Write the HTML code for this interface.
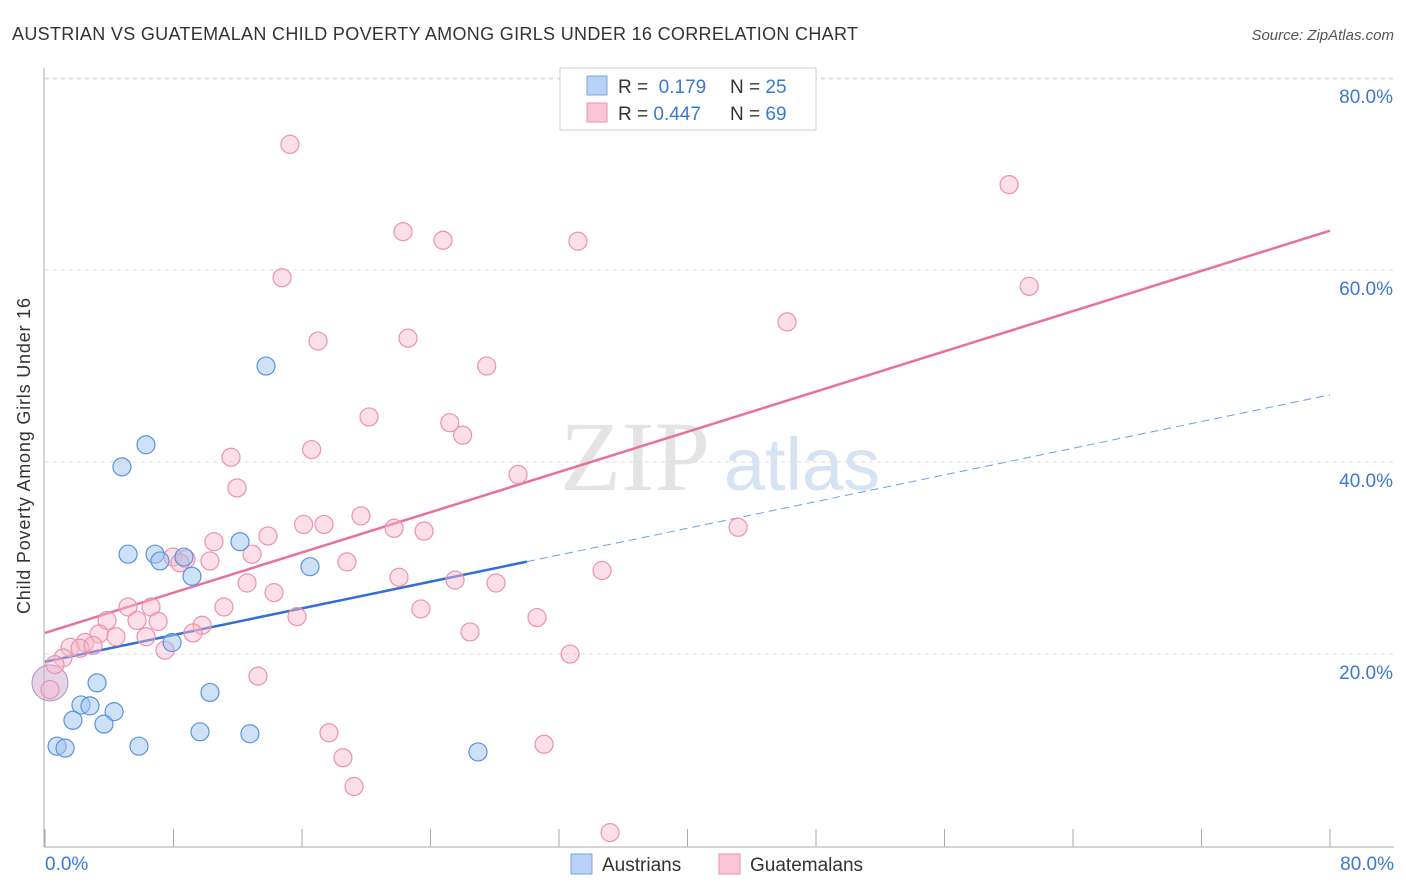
<!DOCTYPE html>
<html><head><meta charset="utf-8"><style>
body{margin:0;background:#fff;font-family:"Liberation Sans",sans-serif}
#wrap{position:relative;width:1406px;height:892px;overflow:hidden}
</style></head><body>
<div id="wrap">
<svg id="chart" width="1406" height="892">
<text x="12" y="40" font-size="18" fill="#333" textLength="846" lengthAdjust="spacing">AUSTRIAN VS GUATEMALAN CHILD POVERTY AMONG GIRLS UNDER 16 CORRELATION CHART</text>
<text x="1394" y="40" font-size="15" fill="#555" text-anchor="end" font-style="italic">Source: ZipAtlas.com</text>
<text x="30" y="456" font-size="18" fill="#333" text-anchor="middle" textLength="316" lengthAdjust="spacing" transform="rotate(-90 30 456)">Child Poverty Among Girls Under 16</text>
<g><text x="635" y="490" font-size="100" fill="#e4e4e4" text-anchor="middle" font-family="Liberation Serif,serif">ZIP</text><text x="802" y="490" font-size="74" fill="#d5e3f3" text-anchor="middle">atlas</text></g>
<g id="grid"></g><g id="axes"></g><g id="lines"></g><g id="pts"></g>
<g>
<rect x="560" y="68" width="256" height="62" fill="#fff" stroke="#ccc"/>
<rect x="587" y="76" width="20" height="19" fill="#b7d2f5" stroke="#7aa7e0"/>
<rect x="587" y="103" width="20" height="19" fill="#fac5d5" stroke="#eb92ae"/>
<text x="618" y="93" font-size="19" fill="#333">R = <tspan fill="#3a78d6">&#160;0.179</tspan><tspan x="730">N = </tspan><tspan fill="#3a78d6">25</tspan></text>
<text x="618" y="120" font-size="19" fill="#333">R = <tspan fill="#3a78d6">0.447</tspan><tspan x="730">N = </tspan><tspan fill="#3a78d6">69</tspan></text>
</g>
<g>
<rect x="571" y="854" width="21" height="20" fill="#b7d2f5" stroke="#7aa7e0"/>
<text x="602" y="871" font-size="19" fill="#333">Austrians</text>
<rect x="719" y="854" width="21" height="20" fill="#fac5d5" stroke="#eb92ae"/>
<text x="750" y="871" font-size="19" fill="#333">Guatemalans</text>
</g>
</svg>
</div>
<script>
const yTicks=[20,40,60,80];
const blueX=[13.76,6.29,4.79,5.17,6.85,7.16,8.65,9.15,12.14,16.5,7.91,3.24,2.24,2.8,1.74,4.3,3.67,10.27,0.75,1.25,5.85,9.65,12.76,26.96];
const blueY=[50.1,41.9,39.6,30.5,30.5,29.8,30.2,28.2,31.8,29.2,21.3,17.1,14.8,14.7,13.2,14.1,12.8,16.1,10.5,10.3,10.5,12.0,11.8,9.9];
const pinkX=[15.25,60.02,22.29,24.78,33.18,14.76,61.27,46.2,17.0,22.6,27.5,20.17,25.2,26.0,16.6,11.58,29.45,11.95,19.67,16.1,17.37,43.15,13.88,21.73,23.6,10.52,12.89,7.97,8.78,10.27,18.8,8.4,34.68,12.58,22.04,25.53,28.08,14.26,5.17,6.6,11.14,23.4,15.69,30.63,3.86,5.73,7.04,9.78,9.21,26.46,6.29,3.36,4.42,2.49,1.56,2.18,2.99,7.47,32.69,1.12,0.62,13.26,17.68,31.07,18.55,19.24,35.18,0.31];
const pinkY=[73.2,69.0,64.1,63.2,63.1,59.3,58.4,54.7,52.7,53.0,50.1,44.8,44.2,42.9,41.4,40.6,38.8,37.4,34.5,33.6,33.6,33.3,32.4,33.2,32.9,31.8,30.5,30.2,30.0,29.8,29.7,29.6,28.8,27.5,28.1,27.8,27.5,26.5,25.0,25.0,25.0,24.8,24.0,23.9,23.6,23.6,23.5,23.1,22.3,22.4,21.9,22.2,21.9,21.3,20.8,20.7,21.0,20.5,20.1,19.7,19.0,17.8,11.9,10.7,9.3,6.3,1.5,16.4];
const pinkTrend=[22.3,64.2];
const blueTrend=[19.3,47.1];
const blueSolidEnd=30;
const X=v=>45+v*1285/80, Y=v=>847-v*9.6;
const NS="http://www.w3.org/2000/svg";
function mk(p,t,a){const e=document.createElementNS(NS,t);for(const k in a)e.setAttribute(k,a[k]);document.getElementById(p).appendChild(e);return e;}
for(const t of yTicks){
 const g=mk('grid','line',{x1:45,x2:1394,y1:Y(t)-1,y2:Y(t)-1,stroke:'#ddd','stroke-dasharray':'4,4'});
 
 
 const l=mk('grid','text',{x:1393,y:Y(t)+24,'font-size':19,fill:'#3a78d6','text-anchor':'end'});l.textContent=t.toFixed(1)+'%';
 
 
}
mk('grid','line',{x1:45,x2:1394,y1:79,y2:79,stroke:'#ddd','stroke-dasharray':'4,4'});
mk('axes','line',{x1:44,x2:44,y1:68,y2:847,stroke:'#aaa'});
mk('axes','line',{x1:44,x2:1394,y1:847,y2:847,stroke:'#aaa'});
for(let i=0;i<=10;i++){mk('axes','line',{x1:X(i*8),x2:X(i*8),y1:829,y2:847,stroke:'#aaa'});}
let t0=mk('axes','text',{x:45,y:870,'font-size':19,fill:'#3a78d6'});t0.textContent='0.0%';


let t1=mk('axes','text',{x:1394,y:870,'font-size':19,fill:'#3a78d6','text-anchor':'end'});t1.textContent='80.0%';


const bAt=x=>blueTrend[0]+(blueTrend[1]-blueTrend[0])*x/80;
let pl=mk('lines','line',{x1:X(0),y1:Y(pinkTrend[0]),x2:X(80),y2:Y(pinkTrend[1]),stroke:'#e8719a','stroke-width':2.5});


let bl=mk('lines','line',{x1:X(0),y1:Y(bAt(0)),x2:X(blueSolidEnd),y2:Y(bAt(blueSolidEnd)),stroke:'#2f6fd6','stroke-width':2.5});


let bd=mk('lines','line',{x1:X(blueSolidEnd),y1:Y(bAt(blueSolidEnd)),x2:X(80),y2:Y(bAt(80)),stroke:'#6a9fe0','stroke-width':1,'stroke-dasharray':'8,5'});


let big1=mk('pts','circle',{cx:X(0.31),cy:Y(17.1),r:18,fill:'rgba(200,170,210,0.5)',stroke:'#b48cc0'});


pinkX.forEach((x,i)=>{const c=mk('pts','circle',{cx:X(x),cy:Y(pinkY[i]),r:9,fill:'rgba(248,185,205,0.45)',stroke:'#eb92ae','stroke-width':1.2});

});
blueX.forEach((x,i)=>{const c=mk('pts','circle',{cx:X(x),cy:Y(blueY[i]),r:9,fill:'rgba(160,196,240,0.5)',stroke:'#5b93dc','stroke-width':1.2});

});
</script>
</body></html>
